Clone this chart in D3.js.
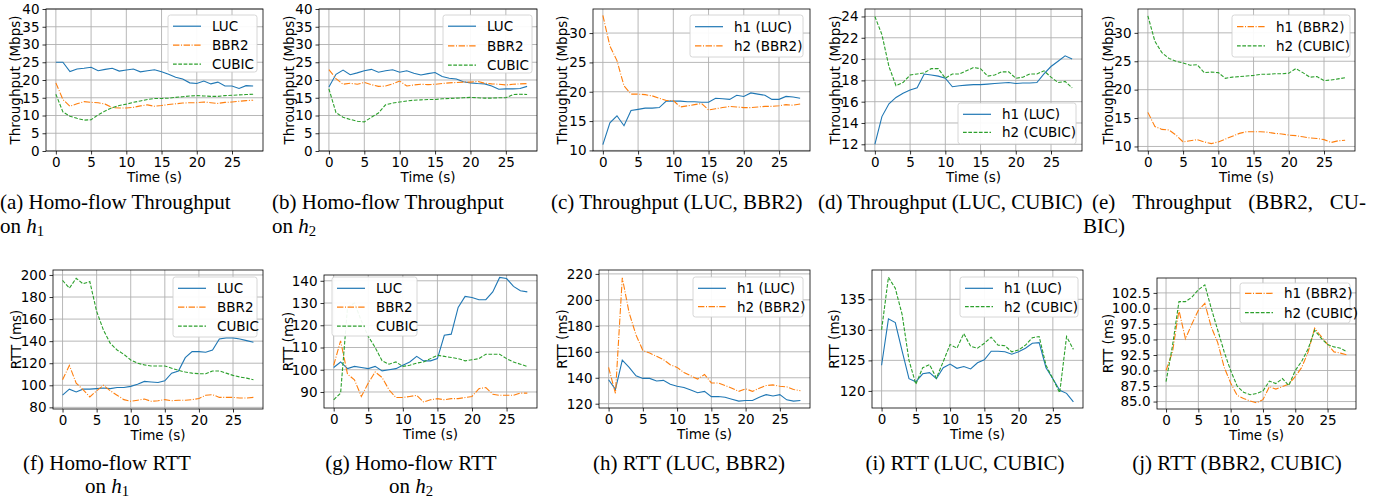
<!DOCTYPE html>
<html><head><meta charset="utf-8">
<script src="https://cdn.jsdelivr.net/npm/d3@7"></script>
<style>body{margin:0;background:#fff}svg{display:block}</style>
</head><body>
<svg id="c" width="1380" height="498"></svg>
<script>
const timeSec = [0,1,2,3,4,5,6,7,8,9,10,11,12,13,14,15,16,17,18,19,20,21,22,23,24,25,26,27,28];
const xTicks = [0,5,10,15,20,25];

// (a) Homo-flow throughput on h1
const a_LUC   = [25,25,22.4,23.1,23.3,23.6,22.6,23.0,23.3,22.5,22.8,23.1,22.3,22.6,22.9,22.3,21.6,20.8,20.3,19.2,19.0,19.7,18.9,19.4,18.3,18.3,17.6,18.4,18.3];
const a_BBR2  = [19.2,14.5,12.6,13.3,13.9,13.7,13.6,13.2,12.2,12.1,12.1,12.3,12.7,13.0,12.6,12.8,13.1,13.3,13.5,13.6,13.6,13.8,13.6,13.4,13.7,13.8,14.0,14.2,14.3];
const a_CUBIC = [16.0,11.0,9.8,9.2,8.7,8.8,10.2,11.3,12.2,12.8,13.2,13.7,14.1,14.5,14.8,14.8,14.9,15.1,15.3,15.5,15.6,15.5,15.4,15.4,15.6,15.7,15.8,15.9,16.0];
// (b) Homo-flow throughput on h2
const b_LUC   = [18.0,21.6,22.8,21.5,22.0,22.6,23.0,22.2,22.6,22.9,22.2,22.6,21.9,21.4,21.8,22.1,21.0,20.5,20.3,19.5,19.2,19.0,18.9,18.3,17.4,17.5,17.5,17.6,18.2];
const b_BBR2  = [22.9,20.4,18.8,19.1,18.8,19.3,18.7,18.2,18.3,18.9,19.7,18.3,18.6,18.8,18.7,18.8,19.0,19.2,19.3,19.4,19.4,19.6,19.1,18.9,18.8,18.6,18.8,18.9,19.0];
const b_CUBIC = [17.5,10.8,9.5,8.9,8.4,8.2,9.5,10.7,13.0,13.5,13.8,14.1,14.3,14.4,14.5,14.5,14.7,14.8,14.9,15.0,15.1,15.0,14.9,14.9,15.0,15.0,15.9,16.0,15.9];
// (c) Throughput LUC vs BBR2
const c_h1LUC  = [11.0,14.7,15.9,14.2,16.8,17.0,17.2,17.2,17.3,18.4,18.4,18.4,18.3,18.3,18.2,18.2,18.9,18.8,18.7,19.4,19.2,19.8,19.6,19.4,18.7,18.7,19.2,19.1,18.9];
const c_h2BBR2 = [33.0,27.8,25.3,21.0,19.6,19.6,19.5,19.3,18.9,18.5,18.5,17.4,17.6,17.8,18.0,16.9,17.1,17.3,17.5,17.4,17.3,17.3,17.4,17.5,17.5,17.6,17.8,17.7,17.9];
// (d) Throughput LUC vs CUBIC
const d_h1LUC   = [12.0,14.6,15.8,16.4,16.8,17.1,17.3,18.6,18.5,18.4,18.2,17.4,17.5,17.55,17.6,17.6,17.65,17.7,17.75,17.8,17.7,17.75,17.75,17.8,18.6,19.3,19.8,20.3,20.0];
const d_h2CUBIC = [24.0,22.3,19.3,17.5,17.8,18.5,18.6,18.7,19.1,19.1,18.2,18.6,18.6,18.9,19.2,19.1,18.4,18.5,18.8,18.8,18.2,18.3,18.6,18.6,18.9,18.3,17.8,17.9,17.3];
// (e) Throughput BBR2 vs CUBIC
const e_h1BBR2  = [16.0,13.5,13.0,12.9,12.0,10.8,11.0,11.2,10.8,10.5,10.8,11.3,11.8,12.3,12.6,12.6,12.6,12.5,12.3,12.2,12.0,11.9,11.7,11.5,11.4,11.2,10.7,11.0,11.1];
const e_h2CUBIC = [33.0,28.5,26.5,25.5,25.0,24.7,24.3,24.4,23.0,23.1,23.0,22.0,22.2,22.3,22.4,22.5,22.7,22.7,22.8,22.8,22.9,23.7,23.0,22.2,22.3,21.6,21.7,21.9,22.1];
// (f) Homo-flow RTT on h1
const f_LUC   = [91,96.5,94,96.5,96.5,97,97.5,97,98,98,99,101,103.5,103,102.5,104,111,113,125,130.5,130.5,130,132,142,143,143,142,140.5,139];
const f_BBR2  = [105,118,102,96,89.5,95,100,95,91,87,85.5,86.5,87.5,85.5,86,87,86,86.5,86.5,87,88,91,91.5,89,89,89,88.5,88.5,89];
const f_CUBIC = [195,188,197,192,194,167,150,138,132,128,123,120,118.5,117.5,117.5,117.5,115.5,113.5,112,111,110.5,110.5,113,113,111,109,107.5,106.5,105];
// (g) Homo-flow RTT on h2
const g_LUC   = [101,103.5,100.5,101.5,101,100.5,101.5,99.5,100,100.5,102,103.5,106,104,104,105,115.5,116,128,133,132.5,131.5,131.5,135,141.5,141,137.5,135.5,135];
const g_BBR2  = [102,113,98,95.5,88,94,99,96.5,91,87.5,87.5,88,88.5,85.5,86.5,87,86.5,87,87,87.5,88,91.5,92,89,88.5,88.5,88.5,89.5,89.5];
const g_CUBIC = [86.5,89.5,128,130,122,115,110,104,102.5,103.5,101.5,102,103,103.5,105,106.5,106,105.5,105,104,104.5,105,107,107,107,105,103.5,102.5,101.5];
// (h) RTT LUC vs BBR2
const h_h1LUC  = [138.5,131,153.5,148,141.5,139.5,139.5,137.5,138,135,133.5,132.5,130.5,128.5,129.5,125.5,125.5,125,123.5,122,122.5,122.5,125,127,126,127,123,122,122.5];
const h_h2BBR2 = [148,128,217,190,173,161,159,156.5,154,150,148,144,141.5,139,142.5,136,136,134,132,129.5,131.5,129.5,132,134,134.5,133.5,133,131,130];
// (i) RTT LUC vs CUBIC
const i_h1LUC   = [124.2,131.8,131.2,126.5,122,121.5,122.8,123,122,123.8,124.4,123.7,124,123.6,124.6,125.1,126.5,126.5,126.4,126,126.4,127,127.8,127.9,123.8,122,120.1,119.6,118.2];
const i_h2CUBIC = [130,138.6,136.8,132.5,125,121.1,123.8,124.3,122.1,124.8,127.6,127,129.4,127.3,127,127.8,128.8,127.5,127.4,126.4,126.7,127.5,128.7,128.9,124.2,122,119.7,128.9,126.8];
// (j) RTT BBR2 vs CUBIC
const j_h1BBR2  = [90,93,99.7,95.1,97.5,99.7,100.8,97,94.5,90.5,88,86,85.5,85.1,84.8,85.3,87.4,87,87.4,87.8,89,90.5,93,96.8,95.5,94.2,93,92.8,92.5];
const j_h2CUBIC = [88.2,94,101.1,101.1,101.8,103,103.8,100,96.5,93,90,87.5,86.5,86.1,86.3,86.7,88.3,87.9,88.7,87.6,90,91.5,93.5,96.5,95.2,94.2,93.8,93.6,93];

// y tick labels
const ticksThr40 = [0,5,10,15,20,25,30,35,40];
const ticksC = [10,15,20,25,30];
const ticksD = [12,14,16,18,20,22,24];
const ticksE = [10,15,20,25,30];
const ticksF = [80,100,120,140,160,180,200];
const ticksG = [90,100,110,120,130,140];
const ticksH = [120,140,160,180,200,220];
const ticksI = [120,125,130,135];
const ticksJ = [85.0,87.5,90.0,92.5,95.0,97.5,100.0,102.5];

const STY = {
  LUC:   {color:"#1f77b4", dash:null},
  BBR2:  {color:"#ff7f0e", dash:"6.4,1.6,1,1.6"},
  CUBIC: {color:"#2ca02c", dash:"3.7,1.6"}
};

const panels = [
 {box:[46,263,9,151], yd:[0,40], yt:ticksThr40, fmt:d3.format("d"), yl:"Throughput (Mbps)", ylx:15,
  series:[["LUC",a_LUC,"LUC"],["BBR2",a_BBR2,"BBR2"],["CUBIC",a_CUBIC,"CUBIC"]], leg:[168,15,89,57,[26.2,45.2,64.2]]},
 {box:[319,537,9,151], yd:[0,40], yt:ticksThr40, fmt:d3.format("d"), yl:"Throughput (Mbps)", ylx:289,
  series:[["LUC",b_LUC,"LUC"],["BBR2",b_BBR2,"BBR2"],["CUBIC",b_CUBIC,"CUBIC"]], leg:[443,15,89,58,[26.2,45.8,65.2]]},
 {box:[593,810,9,151], yd:[9.9,34.1], yt:ticksC, fmt:d3.format("d"), yl:"Throughput (Mbps)", ylx:562,
  series:[["h1 (LUC)",c_h1LUC,"LUC"],["h2 (BBR2)",c_h2BBR2,"BBR2"]], leg:[690,15,113,42,[26.7,45.8]]},
 {box:[865,1082,9,151], yd:[11.37,24.7], yt:ticksD, fmt:d3.format("d"), yl:"Throughput (Mbps)", ylx:835,
  series:[["h1 (LUC)",d_h1LUC,"LUC"],["h2 (CUBIC)",d_h2CUBIC,"CUBIC"]], leg:[958,103,118,41,[114.3,132.3]]},
 {box:[1138,1355,9,151], yd:[9.2,34.2], yt:ticksE, fmt:d3.format("d"), yl:"Throughput (Mbps)", ylx:1108,
  series:[["h1 (BBR2)",e_h1BBR2,"BBR2"],["h2 (CUBIC)",e_h2CUBIC,"CUBIC"]], leg:[1232,15,118,42,[26.7,45.8]]},
 {box:[53,263,270,409], yd:[78.5,204.5], yt:ticksF, fmt:d3.format("d"), yl:"RTT (ms)", ylx:16,
  series:[["LUC",f_LUC,"LUC"],["BBR2",f_BBR2,"BBR2"],["CUBIC",f_CUBIC,"CUBIC"]], leg:[173,277,84,60,[288.3,307.2,326.2]]},
 {box:[324,537,275,408], yd:[82.8,142.6], yt:ticksG, fmt:d3.format("d"), yl:"RTT (ms)", ylx:288,
  series:[["LUC",g_LUC,"LUC"],["BBR2",g_BBR2,"BBR2"],["CUBIC",g_CUBIC,"CUBIC"]], leg:[332,277,85,59,[288.3,307.2,326.2]]},
 {box:[599,810,270,408], yd:[116.7,223], yt:ticksH, fmt:d3.format("d"), yl:"RTT (ms)", ylx:562,
  series:[["h1 (LUC)",h_h1LUC,"LUC"],["h2 (BBR2)",h_h2BBR2,"BBR2"]], leg:[693,277,110,40,[288.3,306.7]]},
 {box:[872,1083,270,408], yd:[117.2,139.8], yt:ticksI, fmt:d3.format("d"), yl:"RTT (ms)", ylx:834,
  series:[["h1 (LUC)",i_h1LUC,"LUC"],["h2 (CUBIC)",i_h2CUBIC,"CUBIC"]], leg:[960,277,118,40,[288.3,306.7]]},
 {box:[1157,1356,278,409], yd:[83.8,104.9], yt:ticksJ, fmt:d3.format(".1f"), yl:"RTT (ms)", ylx:1108,
  series:[["h1 (BBR2)",j_h1BBR2,"BBR2"],["h2 (CUBIC)",j_h2CUBIC,"CUBIC"]], leg:[1240,283,110,40,[293.3,312.7]]}
];

const svg = d3.select("#c");
const FONT = "DejaVu Sans";
const FS = 13.5;

panels.forEach((p,pi) => {
  const [x0,x1,y0,y1] = p.box;
  const xS = d3.scaleLinear().domain([-1.4,29.4]).range([x0,x1]);
  const yS = d3.scaleLinear().domain(p.yd).range([y1,y0]);
  const g = svg.append("g");
  // grid
  g.append("g").selectAll("line").data(xTicks).enter().append("line")
    .attr("x1",d=>xS(d)).attr("x2",d=>xS(d)).attr("y1",y0).attr("y2",y1)
    .attr("stroke","#b0b0b0").attr("stroke-width",0.9);
  g.append("g").selectAll("line").data(p.yt).enter().append("line")
    .attr("x1",x0).attr("x2",x1).attr("y1",d=>yS(d)).attr("y2",d=>yS(d))
    .attr("stroke","#b0b0b0").attr("stroke-width",0.9);
  // lines
  const clipId = "clip"+pi;
  g.append("clipPath").attr("id",clipId).append("rect").attr("x",x0).attr("y",y0).attr("width",x1-x0).attr("height",y1-y0);
  p.series.forEach(s => {
    const st = STY[s[2]];
    const line = d3.line().x((d,i)=>xS(timeSec[i])).y(d=>yS(d));
    const path = g.append("path").attr("d",line(s[1])).attr("fill","none")
      .attr("stroke",st.color).attr("stroke-width",1.1)
      .attr("clip-path","url(#"+clipId+")");
    if (st.dash) path.attr("stroke-dasharray",st.dash);
  });
  // axes
  const ax = g.append("g").attr("transform",`translate(0,${y1})`)
    .call(d3.axisBottom(xS).tickValues(xTicks).tickFormat(d3.format("d")).tickSize(3.5).tickPadding(3));
  const ay = g.append("g").attr("transform",`translate(${x0},0)`)
    .call(d3.axisLeft(yS).tickValues(p.yt).tickFormat(p.fmt).tickSize(3.5).tickPadding(3));
  [ax,ay].forEach(a=>{
    a.select(".domain").remove();
    a.selectAll("text").attr("font-family",FONT).attr("font-size",FS).attr("fill","#000");
    a.selectAll("line").attr("stroke","#000").attr("stroke-width",0.8);
  });
  // spines
  g.append("rect").attr("x",x0).attr("y",y0).attr("width",x1-x0).attr("height",y1-y0)
    .attr("fill","none").attr("stroke","#000").attr("stroke-width",0.8);
  // labels
  g.append("text").attr("x",(x0+x1)/2).attr("y",y1+31).attr("text-anchor","middle")
    .attr("font-family",FONT).attr("font-size",FS).text("Time (s)");
  g.append("text").attr("transform",`translate(${p.ylx},${(y0+y1)/2}) rotate(-90)`)
    .attr("text-anchor","middle").attr("dominant-baseline","central")
    .attr("font-family",FONT).attr("font-size",FS).text(p.yl);
  // legend
  const [lx,ly,lw,lh,rows] = p.leg;
  const lg = g.append("g");
  lg.append("rect").attr("x",lx).attr("y",ly).attr("width",lw).attr("height",lh).attr("rx",2.5)
    .attr("fill","#ffffff").attr("fill-opacity",0.93).attr("stroke","#cccccc").attr("stroke-width",0.8);
  p.series.forEach((s,i) => {
    const st = STY[s[2]];
    const l = lg.append("path").attr("d",`M${lx+5},${rows[i]}H${lx+33}`)
      .attr("fill","none").attr("stroke",st.color).attr("stroke-width",1.2);
    if (st.dash) l.attr("stroke-dasharray",st.dash);
    lg.append("text").attr("x",lx+44).attr("y",rows[i]).attr("dominant-baseline","central")
      .attr("font-family",FONT).attr("font-size",FS).attr("fill","#000").text(s[0]);
  });
});

// captions
const CF = "Liberation Serif";
const CS = 21;
function cap(x, y, parts, anchor){
  const t = svg.append("text").attr("x",x).attr("y",y).attr("font-family",CF).attr("font-size",CS)
    .attr("text-anchor",anchor||"start");
  parts.forEach(pt=>{
    const ts = t.append("tspan").text(pt.t);
    if(pt.it) ts.attr("font-style","italic");
    if(pt.sub) ts.attr("font-size",CS*0.7).attr("dy",3);
  });
  return t;
}
cap(0,209,[{t:"(a) Homo-flow Throughput"}]);
cap(0,233,[{t:"on "},{t:"h",it:1},{t:"1",sub:1}]);
cap(272,209,[{t:"(b) Homo-flow Throughput"}]);
cap(272,233,[{t:"on "},{t:"h",it:1},{t:"2",sub:1}]);
cap(551,209,[{t:"(c) Throughput (LUC, BBR2)"}]);
cap(818,209,[{t:"(d) Throughput (LUC, CUBIC)"}]);
// justified (e) line
(function(){
  const words = ["(e)","Throughput","(BBR2,","CU-"];
  const xs = 1092, xe = 1366;
  const els = words.map(w=>svg.append("text").attr("y",209).attr("font-family",CF).attr("font-size",CS).text(w));
  const ws = els.map(e=>e.node().getComputedTextLength());
  const gap = (xe-xs-d3.sum(ws))/(words.length-1);
  let cx = xs;
  els.forEach((e,i)=>{ e.attr("x",cx); cx += ws[i]+gap; });
})();
cap(1083,233,[{t:"BIC)"}]);
cap(107,470,[{t:"(f) Homo-flow RTT"}],"middle");
cap(107,493,[{t:"on "},{t:"h",it:1},{t:"1",sub:1}],"middle");
cap(411,470,[{t:"(g) Homo-flow RTT"}],"middle");
cap(411,493,[{t:"on "},{t:"h",it:1},{t:"2",sub:1}],"middle");
cap(689,470,[{t:"(h) RTT (LUC, BBR2)"}],"middle");
cap(965,470,[{t:"(i) RTT (LUC, CUBIC)"}],"middle");
cap(1237,470,[{t:"(j) RTT (BBR2, CUBIC)"}],"middle");
</script>
</body></html>
